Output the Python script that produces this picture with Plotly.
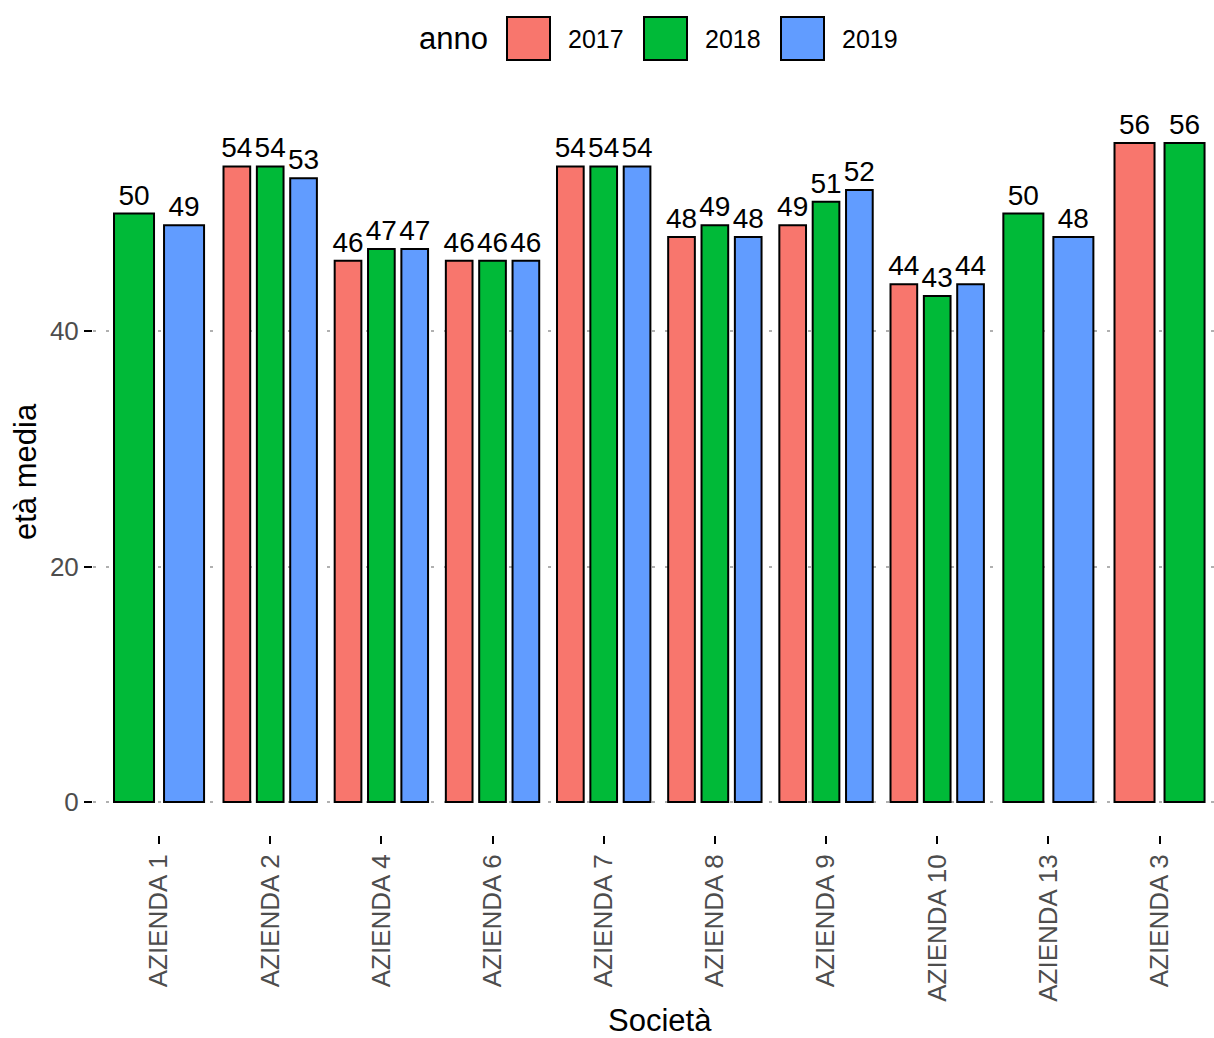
import plotly.graph_objects as go

companies = ["AZIENDA 1", "AZIENDA 2", "AZIENDA 4", "AZIENDA 6", "AZIENDA 7",
             "AZIENDA 8", "AZIENDA 9", "AZIENDA 10", "AZIENDA 13", "AZIENDA 3"]
years = ["2017", "2018", "2019"]
age_2017 = [None, 54, 46, 46, 54, 48, 49, 44, None, 56]
age_2018 = [50, 54, 47, 46, 54, 49, 51, 43, 50, 56]
age_2019 = [49, 53, 47, 46, 54, 48, 52, 44, 48, None]
colors = ["#F8766D", "#00BA38", "#619CFF"]

series = [age_2017, age_2018, age_2019]

W, H = 1214, 1038
ML, MR, MT, MB = 93, 0, 110, 203
PW, PH = W - ML - MR, H - MT - MB
FONT = "Liberation Sans, Arial, sans-serif"


def px2x(px):
    return (px - ML) / PW


def px2y(py):
    return (H - MB - py) / PH


# dodge2-like positions
group_w = 0.9
shrink = 0.8
present = [[s[i] is not None for s in series] for i in range(len(companies))]

fig = go.Figure()
for yi, (yr, vals, col) in enumerate(zip(years, series, colors)):
    xs, ys, ws = [], [], []
    for ci, v in enumerate(vals):
        if v is None:
            continue
        n = sum(present[ci])
        k = sum(present[ci][:yi])
        slot = group_w / n
        xs.append(ci - group_w / 2 + slot * (k + 0.5))
        ys.append(v)
        ws.append(slot * shrink)
    fig.add_trace(go.Bar(
        x=xs, y=ys, width=ws, name=yr,
        marker=dict(color=col, line=dict(color="black", width=2)),
        text=[str(v) for v in ys], textposition="outside",
        textfont=dict(size=28, color="black", family=FONT),
        constraintext="none", cliponaxis=False, showlegend=False,
    ))

fig.update_layout(
    width=W, height=H, barmode="overlay",
    margin=dict(l=ML, r=MR, t=MT, b=MB, pad=0),
    plot_bgcolor="white", paper_bgcolor="white",
    font=dict(family=FONT, color="black"),
    xaxis=dict(range=[-0.594, 9.49], tickmode="array",
               tickvals=list(range(len(companies))), ticktext=companies,
               tickangle=-90, ticks="outside", ticklen=8, tickwidth=2,
               tickcolor="black", showgrid=False, zeroline=False,
               showline=False,
               tickfont=dict(size=26, color="#4D4D4D", family=FONT)),
    yaxis=dict(range=[-2.8, 58.8], tickvals=[0, 20, 40],
               ticks="outside", ticklen=8, tickwidth=2, tickcolor="black",
               showgrid=True, gridcolor="#B0B0B0", gridwidth=2,
               griddash="3px,10px", zeroline=False, showline=False,
               tickfont=dict(size=26, color="#4D4D4D", family=FONT)),
)

# axis titles
fig.add_annotation(text="Società", x=px2x(660), y=px2y(1021), xref="paper",
                   yref="paper", showarrow=False, xanchor="center",
                   yanchor="middle", font=dict(size=31, color="black", family=FONT))
fig.add_annotation(text="età media", x=px2x(25), y=px2y(472), xref="paper",
                   yref="paper", showarrow=False, xanchor="center",
                   yanchor="middle", textangle=-90,
                   font=dict(size=31, color="black", family=FONT))

# legend (drawn manually for large keys)
fig.add_annotation(text="anno", x=px2x(417), y=px2y(39), xref="paper",
                   yref="paper", showarrow=False, xanchor="left",
                   yanchor="middle", font=dict(size=31, color="black", family=FONT))
box_left = [507, 644, 781]
for yr, col, bl in zip(years, colors, box_left):
    fig.add_shape(type="rect", xref="paper", yref="paper",
                  x0=px2x(bl), x1=px2x(bl + 43), y0=px2y(60), y1=px2y(17),
                  fillcolor=col, line=dict(color="black", width=2))
    fig.add_annotation(text=yr, x=px2x(bl + 59), y=px2y(39), xref="paper",
                       yref="paper", showarrow=False, xanchor="left",
                       yanchor="middle",
                       font=dict(size=25, color="black", family=FONT))

fig.write_html("out.html", config={"displayModeBar": False},
               post_script="document.body.style.margin='0';"
                           "document.body.style.padding='0';")
